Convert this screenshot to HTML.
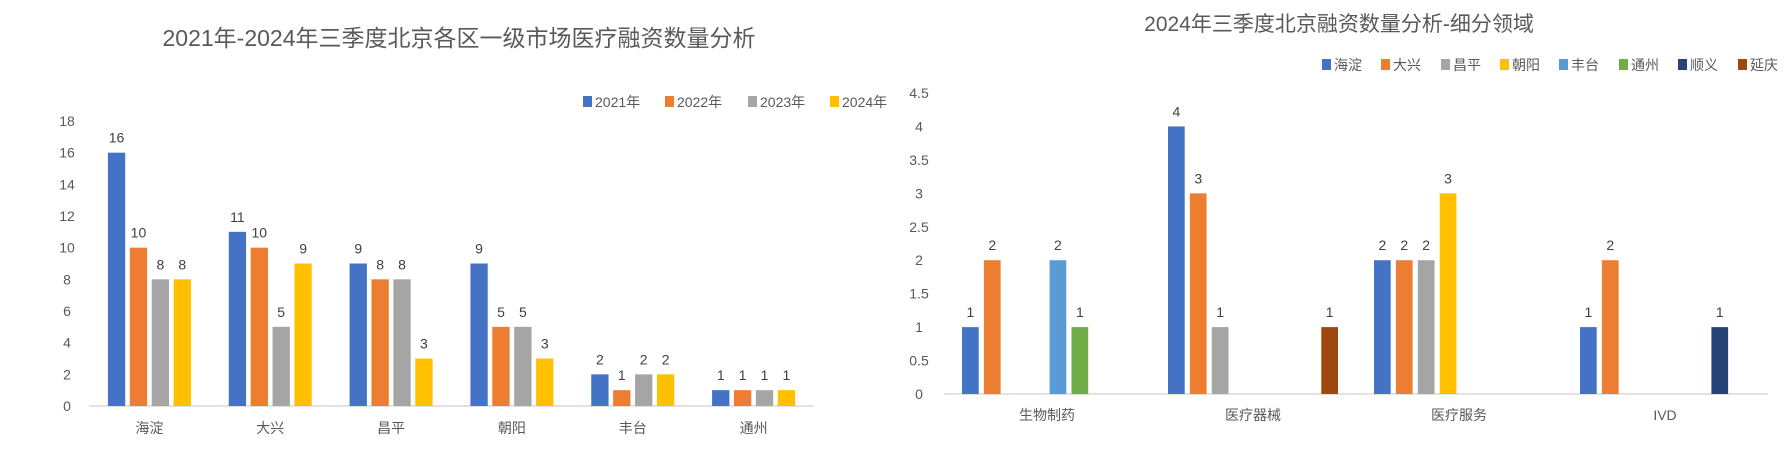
<!DOCTYPE html>
<html><head><meta charset="utf-8">
<style>
body{margin:0;background:#fff;}
svg{display:block;font-family:"Liberation Sans","Noto Sans CJK SC",sans-serif;}
</style></head>
<body>
<svg id="c" width="1790" height="452" viewBox="0 0 1790 452">
<text x="459" y="46" text-anchor="middle" font-size="23" fill="#595959">2021年-2024年三季度北京各区一级市场医疗融资数量分析</text>
<text x="1339" y="31" text-anchor="middle" font-size="21" fill="#595959">2024年三季度北京融资数量分析-细分领域</text>
</svg>
<script>
// Left chart data
const leftCats = ["海淀","大兴","昌平","朝阳","丰台","通州"];
const leftSeriesNames = ["2021年","2022年","2023年","2024年"];
const v2021 = [16,11,9,9,2,1];
const v2022 = [10,10,8,5,1,1];
const v2023 = [8,5,8,5,2,1];
const v2024 = [8,9,3,3,2,1];
const leftTicks = [0,2,4,6,8,10,12,14,16,18];
// Right chart data
const rightCats = ["生物制药","医疗器械","医疗服务","IVD"];
const rightSeriesNames = ["海淀","大兴","昌平","朝阳","丰台","通州","顺义","延庆"];
const rHaidian = [1,4,2,1];
const rDaxing = [2,3,2,2];
const rChangping = [0,1,2,0];
const rChaoyang = [0,0,3,0];
const rFengtai = [2,0,0,0];
const rTongzhou = [1,0,0,0];
const rShunyi = [0,0,0,1];
const rYanqing = [0,1,0,0];
const rightTicks = [0,0.5,1,1.5,2,2.5,3,3.5,4,4.5];

const NS="http://www.w3.org/2000/svg";
const svg=document.getElementById('c');
function mk(tag,attrs,txt){const e=document.createElementNS(NS,tag);for(const k in attrs)e.setAttribute(k,attrs[k]);if(txt!==undefined)e.textContent=txt;svg.appendChild(e);return e;}

function drawChart(o){
  const y=v=>o.y0-(v/o.max)*(o.y0-o.yTop);
  o.ticks.forEach(t=>{
    const e=mk('text',{x:o.tickX,y:y(t)+5,'text-anchor':'middle','font-size':14,fill:'#595959'},String(t));
    
    
  });
  const ax=mk('line',{x1:o.x0,x2:o.x1,y1:o.y0,y2:o.y0,stroke:'#d9d9d9','stroke-width':1.5});
  
  
  const cw=(o.x1-o.x0)/o.cats.length;
  const n=o.series.length;
  const gw=n*o.bw+(n-1)*o.gap;
  o.cats.forEach((c,i)=>{
    const cx=o.x0+cw*(i+0.5);
    const lab=mk('text',{x:cx,y:o.catY,'text-anchor':'middle','font-size':14,fill:'#595959'},c);
    
    
    o.series.forEach((s,j)=>{
      const v=s[i];
      if(!v)return;
      const bx=cx-gw/2+j*(o.bw+o.gap);
      const r=mk('rect',{x:bx,y:y(v),width:o.bw,height:o.y0-y(v),fill:o.colors[j]});
      
      
      const t=mk('text',{x:bx+o.bw/2,y:y(v)-10,'text-anchor':'middle','font-size':14,fill:'#404040'},String(v));
      
      
    });
  });
  o.names.forEach((nm,j)=>{
    const lx=o.legX[j];
    const sq=mk('rect',{x:lx,y:o.legY-6,width:9,height:11,fill:o.colors[j]});
    
    
    const lt=mk('text',{x:lx+12,y:o.legY+5,'font-size':14,fill:'#595959'},nm);
    
    
  });
}

drawChart({cats:leftCats,series:[v2021,v2022,v2023,v2024],names:leftSeriesNames,
  colors:['#4472c4','#ed7d31','#a5a5a5','#ffc000'],
  ticks:leftTicks,max:18,y0:406,yTop:121,x0:89,x1:814,tickX:67,bw:17.3,gap:4.6,catY:433,
  legX:[583,665,748,830],legY:102});

drawChart({cats:rightCats,series:[rHaidian,rDaxing,rChangping,rChaoyang,rFengtai,rTongzhou,rShunyi,rYanqing],names:rightSeriesNames,
  colors:['#4472c4','#ed7d31','#a5a5a5','#ffc000','#5b9bd5','#70ad47','#264478','#9e480e'],
  ticks:rightTicks,max:4.5,y0:394,yTop:93,x0:944,x1:1768,tickX:919,bw:16.7,gap:5.2,catY:420,
  legX:[1322,1381,1441,1500,1559,1619,1678,1738],legY:65});
</script>
</body></html>
